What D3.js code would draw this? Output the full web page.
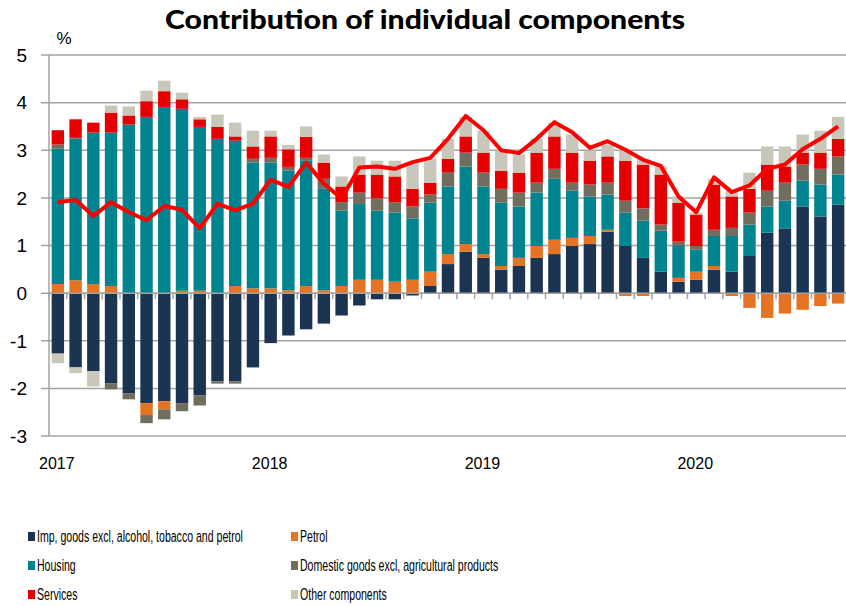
<!DOCTYPE html>
<html>
<head>
<meta charset="utf-8">
<script src="https://cdnjs.cloudflare.com/ajax/libs/d3/7.8.5/d3.min.js"></script>
<style>
    body { margin: 0; background: #fff; }
    svg { display: block; font-family: 'Liberation Sans', Arial, sans-serif; }
</style>
</head>
<body>
<div id="body"></div>
<script>
// months Jan 2017 .. Sep 2020
const months = ['2017-01','2017-02','2017-03','2017-04','2017-05','2017-06','2017-07','2017-08','2017-09','2017-10','2017-11','2017-12',
    '2018-01','2018-02','2018-03','2018-04','2018-05','2018-06','2018-07','2018-08','2018-09','2018-10','2018-11','2018-12',
    '2019-01','2019-02','2019-03','2019-04','2019-05','2019-06','2019-07','2019-08','2019-09','2019-10','2019-11','2019-12',
    '2020-01','2020-02','2020-03','2020-04','2020-05','2020-06','2020-07','2020-08','2020-09'];
const yearLabels = ['2017', '2018', '2019', '2020'];
const yTicks = [-3, -2, -1, 0, 1, 2, 3, 4, 5];

const seriesKeys = ['imp', 'petrol', 'housing', 'domestic', 'services', 'other'];
const seriesNames = ['Imp, goods excl, alcohol, tobacco and petrol', 'Petrol', 'Housing',
    'Domestic goods excl, agricultural products', 'Services', 'Other components'];
const seriesColors = ['#1b3452', '#e57323', '#00848f', '#716e60', '#e40000', '#c9c7b9'];

const imp = [-1.27,-1.56,-1.64,-1.89,-2.10,-2.31,-2.27,-2.31,-2.15,-1.85,-1.85,-1.56,
    -1.05,-0.89,-0.76,-0.64,-0.47,-0.26,-0.13,-0.13,-0.05,0.15,0.61,0.87,
    0.74,0.49,0.57,0.74,0.82,0.99,1.03,1.29,0.99,0.74,0.45,0.24,
    0.28,0.49,0.45,0.78,1.27,1.36,1.82,1.61,1.86];
const petrol = [0.19,0.27,0.19,0.15,0,-0.25,-0.17,0.05,0.05,0,0.15,0.10,
    0.10,0.06,0.15,0.06,0.15,0.28,0.28,0.24,0.28,0.30,0.21,0.16,
    0.08,0.08,0.17,0.25,0.30,0.17,0.17,0.04,-0.06,-0.06,0,0.08,
    0.17,0.08,-0.06,-0.31,-0.52,-0.43,-0.35,-0.27,-0.22];
const housing = [2.84,2.97,3.18,3.22,3.54,3.70,3.91,3.82,3.44,3.24,3.05,2.64,
    2.64,2.51,2.64,2.13,1.58,1.59,1.45,1.45,1.29,1.45,1.42,1.63,
    1.42,1.33,1.08,1.12,1.28,0.99,0.83,0.74,0.70,0.78,0.86,0.67,
    0.46,0.63,0.75,0.66,0.55,0.58,0.54,0.67,0.63];
const domestic = [0.09,0.02,0,-0.13,-0.13,-0.17,-0.21,-0.17,-0.21,-0.05,-0.05,0.08,
    0.10,0.08,0.05,0.21,0.18,0.24,0.26,0.22,0.25,0.17,0.29,0.29,
    0.29,0.29,0.29,0.21,0.21,0.17,0.25,0.25,0.25,0.26,0.13,0.09,
    0.08,0.13,0.17,0.25,0.33,0.38,0.34,0.33,0.38];
const services = [0.30,0.39,0.21,0.42,0.19,0.33,0.33,0.20,0.16,0.25,0.09,0.26,
    0.45,0.37,0.44,0.34,0.33,0.38,0.50,0.54,0.37,0.25,0.29,0.34,
    0.42,0.38,0.42,0.63,0.68,0.63,0.50,0.55,0.84,0.92,1.05,0.82,
    0.66,0.95,0.66,0.50,0.55,0.34,0.25,0.34,0.37];
const other = [-0.20,-0.12,-0.32,0.15,0.19,0.22,0.22,0.14,0.05,0.26,0.29,0.33,
    0.12,0.09,0.22,0.17,0.21,0.38,0.29,0.33,0.55,0.50,0.42,0.41,
    0.46,0.42,0.38,0.29,0.29,0.38,0.21,0.25,0.21,0.12,0.17,0.13,
    0.04,0.12,0.12,0.34,0.38,0.42,0.38,0.46,0.46];
const total = [1.91,1.96,1.62,1.91,1.70,1.53,1.83,1.75,1.36,1.88,1.74,1.88,
    2.38,2.23,2.74,2.30,1.98,2.64,2.66,2.61,2.75,2.84,3.24,3.72,
    3.42,3.00,2.94,3.24,3.59,3.38,3.05,3.19,3.01,2.80,2.67,2.03,
    1.70,2.43,2.12,2.26,2.61,2.70,3.02,3.24,3.50];

class ContributionChart {
    constructor() {
        this._width = 846;
        this._height = 606;
        this._plot = {left: 49, right: 847, top: 55, bottom: 436};
        this._gridColor = '#a3a3a3';
        this._lineColor = '#ff0000';
        this._legendSquash = 0.66;
        this._scaleX = d3.scaleBand()
            .domain(months)
            .range([this._plot.left, this._plot.right])
            .paddingInner(0.3)
            .paddingOuter(0.15);
        this._scaleY = d3.scaleLinear()
            .domain([-3, 5])
            .range([this._plot.bottom, this._plot.top]);
        this._svg = null;
    }
    render() {
        this._svg = d3.select('#body')
            .append('svg')
            .attr('width', this._width)
            .attr('height', this._height);
        this.renderTitle();
        this.renderGrid();
        this.renderBars();
        this.renderXAxis();
        this.renderLine();
        this.renderLegend();
    }
    renderTitle() {
        this._svg.append('text')
            .attr('x', 425)
            .attr('y', 29)
            .attr('text-anchor', 'middle')
            .attr('textLength', 520)
            .attr('lengthAdjust', 'spacingAndGlyphs')
            .style('font-family', 'Lato, sans-serif')
            .style('font-weight', '900')
            .style('font-size', '26px')
            .text('Contribution of individual components');

        this._svg.append('text')
            .attr('x', 64)
            .attr('y', 44)
            .attr('text-anchor', 'middle')
            .style('font-size', '17px')
            .text('%');
    }
    renderGrid() {
        let grid = this._svg.append('g').attr('class', 'grid');
        grid.selectAll('line')
            .data(yTicks)
            .enter()
            .append('line')
            .attr('x1', this._plot.left - 8)
            .attr('x2', this._width)
            .attr('y1', d => this._scaleY(d))
            .attr('y2', d => this._scaleY(d))
            .attr('stroke', this._gridColor)
            .attr('stroke-width', 1.5);
        grid.append('line')
            .attr('x1', this._plot.left)
            .attr('x2', this._plot.left)
            .attr('y1', this._plot.top)
            .attr('y2', this._plot.bottom)
            .attr('stroke', this._gridColor)
            .attr('stroke-width', 1.5);
        grid.selectAll('text')
            .data(yTicks)
            .enter()
            .append('text')
            .attr('x', 27)
            .attr('y', d => this._scaleY(d))
            .attr('dy', '0.36em')
            .attr('text-anchor', 'end')
            .style('font-size', '19px')
            .text(d => d);
    }
    renderBars() {
        let table = months.map((m, i) => ({
            month: m, imp: imp[i], petrol: petrol[i], housing: housing[i],
            domestic: domestic[i], services: services[i], other: other[i]
        }));
        let stacked = d3.stack()
            .keys(seriesKeys)
            .offset(d3.stackOffsetDiverging)(table);

        this._svg.append('g')
            .attr('class', 'bars')
            .selectAll('g')
            .data(stacked)
            .enter()
            .append('g')
            .attr('fill', (d, i) => seriesColors[i])
            .selectAll('rect')
            .data(d => d)
            .enter()
            .append('rect')
            .attr('x', d => this._scaleX(d.data.month))
            .attr('width', this._scaleX.bandwidth())
            .attr('y', d => this._scaleY(Math.max(d[0], d[1])))
            .attr('height', d => Math.abs(this._scaleY(d[0]) - this._scaleY(d[1])));
    }
    renderXAxis() {
        let axis = this._svg.append('g').attr('class', 'x axis');
        let y0 = this._scaleY(0);
        let half = this._scaleX.step() * this._scaleX.paddingInner() / 2;
        axis.append('line')
            .attr('x1', this._plot.left)
            .attr('x2', this._width)
            .attr('y1', y0)
            .attr('y2', y0)
            .attr('stroke', this._gridColor)
            .attr('stroke-width', 1.5);
        axis.selectAll('line.tick')
            .data(months)
            .enter()
            .append('line')
            .attr('class', 'tick')
            .attr('x1', d => this._scaleX(d) - half)
            .attr('x2', d => this._scaleX(d) - half)
            .attr('y1', y0)
            .attr('y2', y0 + 6)
            .attr('stroke', this._gridColor)
            .attr('stroke-width', 1.5);
        axis.selectAll('text')
            .data(yearLabels)
            .enter()
            .append('text')
            .attr('x', d => this._scaleX(d + '-01') + this._scaleX.bandwidth() / 2 - 1)
            .attr('y', 469)
            .attr('text-anchor', 'middle')
            .style('font-size', '16px')
            .text(d => d);
    }
    renderLine() {
        let line = d3.line()
            .x((d, i) => this._scaleX(months[i]) + this._scaleX.bandwidth() / 2)
            .y(d => this._scaleY(d));
        this._svg.append('path')
            .datum(total)
            .attr('d', line)
            .attr('fill', 'none')
            .attr('stroke', this._lineColor)
            .attr('stroke-width', 4)
            .attr('stroke-linejoin', 'round');
    }
    renderLegend() {
        let legend = this._svg.append('g').attr('class', 'legend');
        let items = legend.selectAll('g')
            .data(seriesNames)
            .enter()
            .append('g')
            .attr('transform', (d, i) => `translate(${i % 2 ? 291 : 28}, ${532 + Math.floor(i / 2) * 29})`);
        items.append('rect')
            .attr('width', 7)
            .attr('height', 9)
            .attr('fill', (d, i) => seriesColors[i]);
        items.append('g')
            .attr('transform', `translate(9, 0) scale(${this._legendSquash}, 1)`)
            .append('text')
            .attr('y', 10)
            .style('font-size', '16px')
            .text(d => d);
    }
}

new ContributionChart().render();
</script>
</body>
</html>
